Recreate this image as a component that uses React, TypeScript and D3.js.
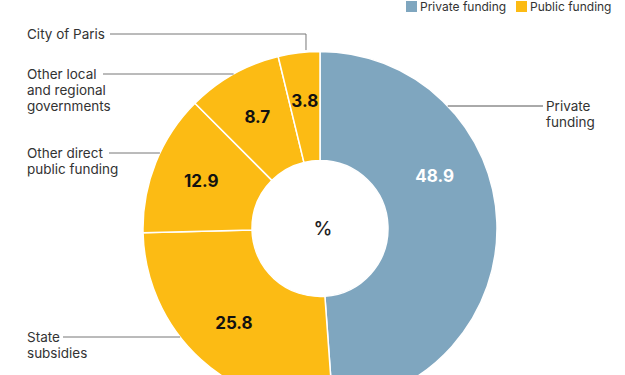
import React from "react";
import * as d3 from "d3";

// funding shares, %
const categories = [
  "Private funding",
  "State subsidies",
  "Other direct public funding",
  "Other local and regional governments",
  "City of Paris",
];
const values = [48.9, 25.8, 12.9, 8.7, 3.8];
const groups = ["Private funding", "Public funding", "Public funding", "Public funding", "Public funding"];
const labelLines = [
  ["Private", "funding"],
  ["State", "subsidies"],
  ["Other direct", "public funding"],
  ["Other local", "and regional", "governments"],
  ["City of Paris"],
];
const legendItems = ["Private funding", "Public funding"];

const width = 625;
const height = 375;
const cx = 320;
const cy = 228.5;
const outerR = 177;
const innerR = 68;
const font = "Inter, 'Noto Sans', sans-serif";

const color = d3.scaleOrdinal<string, string>().domain(legendItems).range(["#7fa6bf", "#fcbb14"]);

// where the callout text sits
const calloutY = [106, 337, 153, 74, 34];
const leaderStart = [543, 63, 109, 103, 110];

const App = () => {
  const pie = d3.pie<number>().sort(null).startAngle(0).endAngle(2 * Math.PI);
  const arcs = pie(values);
  const arc = d3.arc<d3.PieArcDatum<number>>().innerRadius(innerR).outerRadius(outerR);

  const labelPos = (d: d3.PieArcDatum<number>, i: number) => {
    let a = (d.startAngle + d.endAngle) / 2;
    // half the private slice is cut off by the frame, pull its label up
    if (i === 0) a -= 0.39;
    const r = i === 0 ? 126 : 128;
    return [cx + r * Math.sin(a), cy - r * Math.cos(a)];
  };

  return (
    <div style={{ position: "absolute", left: 0, top: 0 }}>
      <svg width={width} height={height} style={{ display: "block", fontFamily: font }}>
        <rect width={width} height={height} fill="#fff" />

        {/* legend */}
        <g>
          {legendItems.map((name, i) => {
            const x = i === 0 ? 406 : 516;
            return (
              <g key={name} transform={`translate(${x},1)`}>
                <rect width={11} height={11} fill={color(name)} />
                <text x={14} y={10} fontSize={12} fill="#333">
                  {name}
                </text>
              </g>
            );
          })}
        </g>

        <g transform={`translate(${cx},${cy})`}>
          {arcs.map((d, i) => (
            <path key={categories[i]} d={arc(d) || ""} fill={color(groups[i])} stroke="#fff" strokeWidth={1.5} />
          ))}
        </g>

        {/* value labels */}
        {arcs.map((d, i) => {
          const [x, y] = labelPos(d, i);
          return (
            <text
              key={"v" + i}
              x={x}
              y={y}
              dy="0.35em"
              textAnchor="middle"
              fontSize={17}
              fontWeight={700}
              fill={i === 0 ? "#fff" : "#111"}
            >
              {values[i].toFixed(1)}
            </text>
          );
        })}

        <text x={cx + 3} y={cy} dy="0.35em" textAnchor="middle" fontSize={19} fontWeight={500} fill="#222">
          %
        </text>

        {/* callouts */}
        {arcs.map((d, i) => {
          const y = calloutY[i];
          const lines = labelLines[i];
          const dy = y - cy;
          const right = i === 0;
          let path: string;
          if (i === 4) {
            // elbow down into the thin slice
            const a = (d.startAngle + d.endAngle) / 2 + 0.04;
            const ex = cx + outerR * Math.sin(a);
            const ey = cy - outerR * Math.cos(a) - 2;
            path = `M${leaderStart[i]},${y}H${ex}V${ey}`;
          } else {
            const edgeX = cx + (right ? 1 : -1) * Math.sqrt(outerR * outerR - dy * dy);
            path = `M${leaderStart[i]},${y}H${edgeX}`;
          }
          return (
            <g key={"c" + i}>
              <path d={path} fill="none" stroke={right ? "#555" : "#777"} strokeWidth={1} />
              {lines.map((t, j) => (
                <text key={t} x={right ? 546 : 27} y={y + j * 16} dy="0.35em" fontSize={13.5} fill="#333">
                  {t}
                </text>
              ))}
            </g>
          );
        })}
      </svg>
    </div>
  );
};

export default App;
